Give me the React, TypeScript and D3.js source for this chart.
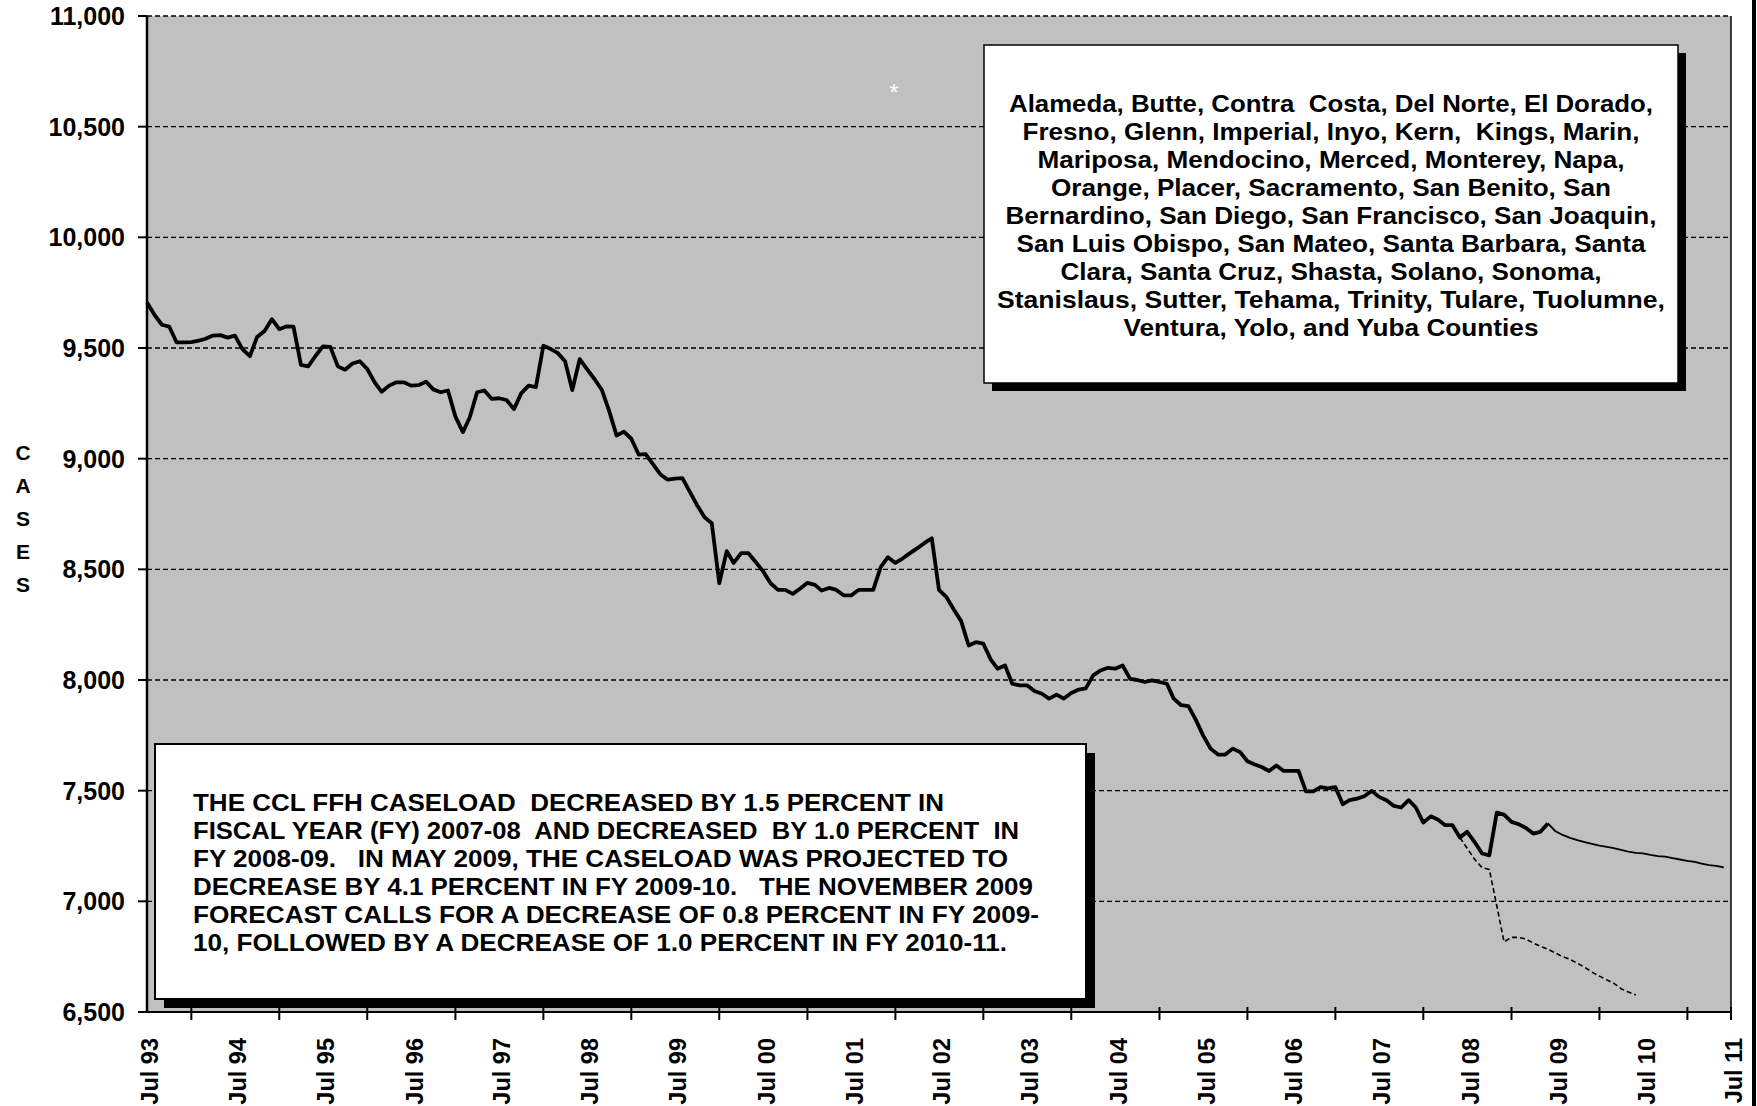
import { useMemo } from 'react'
import { line, range, scaleLinear, scaleTime } from 'd3'

// monthly CCL FFH caseload, Jul 93 onward
const actualCases = [
  9706, 9650, 9605, 9597, 9525, 9525, 9527, 9533, 9542, 9556, 9558, 9547,
  9556, 9495, 9463, 9550, 9577, 9630, 9585, 9598, 9597, 9424, 9417, 9465,
  9507, 9505, 9417, 9402, 9430, 9440, 9405, 9345, 9302, 9330, 9345, 9345,
  9330, 9332, 9348, 9313, 9300, 9308, 9190, 9120, 9185, 9300, 9308, 9270,
  9273, 9265, 9224, 9295, 9330, 9323, 9510, 9495, 9478, 9440, 9310, 9450,
  9405, 9360, 9310, 9216, 9104, 9122, 9090, 9018, 9021, 8975, 8930, 8905,
  8910, 8912, 8850, 8790, 8735, 8708, 8437, 8582, 8529, 8573, 8573, 8532,
  8491, 8437, 8407, 8407, 8389, 8412, 8439, 8430, 8404, 8416, 8407, 8382,
  8382, 8407, 8407, 8407, 8510, 8555, 8529, 8550, 8572, 8595, 8618, 8640,
  8407, 8374, 8317, 8266, 8156, 8171, 8164, 8092, 8051, 8066, 7983, 7976,
  7976, 7950, 7938, 7916, 7934, 7916, 7941, 7957, 7962, 8021, 8043, 8055,
  8051, 8066, 8005, 8000, 7991, 7998, 7991, 7983, 7916, 7886, 7882, 7820,
  7750, 7690, 7663, 7663, 7690, 7675, 7633, 7618, 7607, 7589, 7614, 7589,
  7589, 7589, 7497, 7497, 7516, 7510, 7516, 7439, 7457, 7464, 7475, 7499,
  7472, 7457, 7431, 7424, 7457, 7424, 7356, 7384, 7370, 7344, 7344, 7288,
  7314, 7268, 7216, 7208, 7401, 7392, 7359, 7348, 7332, 7306, 7314, 7352,
]

// November 2009 forecast, from Jun 09
const novForecastStart = 191
const novForecast = [
  7352, 7318, 7300, 7287, 7277, 7268, 7260, 7252, 7246, 7240, 7233, 7225,
  7219, 7217, 7210, 7204, 7202, 7195, 7189, 7183, 7178, 7170, 7164, 7160, 7153,
]

// May 2009 forecast, from Jun 08
const mayForecastStart = 179
const mayForecast = [
  7288, 7240, 7190, 7152, 7144, 6980, 6817, 6837, 6837, 6830, 6812, 6797,
  6783, 6768, 6750, 6738, 6720, 6702, 6680, 6662, 6645, 6630, 6605, 6590, 6577,
]

const yTicks = [6500, 7000, 7500, 8000, 8500, 9000, 9500, 10000, 10500, 11000]
const xLabels = [
  'Jul 93', 'Jul 94', 'Jul 95', 'Jul 96', 'Jul 97', 'Jul 98', 'Jul 99', 'Jul 00', 'Jul 01',
  'Jul 02', 'Jul 03', 'Jul 04', 'Jul 05', 'Jul 06', 'Jul 07', 'Jul 08', 'Jul 09', 'Jul 10', 'Jul 11',
]

const countyLines = [
  'Alameda, Butte, Contra  Costa, Del Norte, El Dorado,',
  'Fresno, Glenn, Imperial, Inyo, Kern,  Kings, Marin,',
  'Mariposa, Mendocino, Merced, Monterey, Napa,',
  'Orange, Placer, Sacramento, San Benito, San',
  'Bernardino, San Diego, San Francisco, San Joaquin,',
  'San Luis Obispo, San Mateo, Santa Barbara, Santa',
  'Clara, Santa Cruz, Shasta, Solano, Sonoma,',
  'Stanislaus, Sutter, Tehama, Trinity, Tulare, Tuolumne,',
  'Ventura, Yolo, and Yuba Counties',
]
// rendered width of each line in the source
const countyWidths = [644, 617, 587, 560, 651, 629, 541, 668, 415]

const noteLines = [
  'THE CCL FFH CASELOAD  DECREASED BY 1.5 PERCENT IN',
  'FISCAL YEAR (FY) 2007-08  AND DECREASED  BY 1.0 PERCENT  IN',
  'FY 2008-09.   IN MAY 2009, THE CASELOAD WAS PROJECTED TO',
  'DECREASE BY 4.1 PERCENT IN FY 2009-10.   THE NOVEMBER 2009',
  'FORECAST CALLS FOR A DECREASE OF 0.8 PERCENT IN FY 2009-',
  '10, FOLLOWED BY A DECREASE OF 1.0 PERCENT IN FY 2010-11.',
]
const noteWidths = [751, 826, 815, 840, 846, 814]

const W = 1757
const H = 1106
const plot = { left: 147, right: 1731, top: 16, bottom: 1012 }
const font = '"Liberation Sans", Arial, Helvetica, sans-serif'

const monthDate = (i: number) => new Date(1993, 6 + i, 1)

export default function App() {
  const x = useMemo(
    () => scaleTime().domain([new Date(1993, 6, 1), new Date(2011, 6, 1)]).range([plot.left, plot.right]),
    []
  )
  const y = useMemo(() => scaleLinear().domain([6500, 11000]).range([plot.bottom, plot.top]), [])

  const path = line<[Date, number]>()
    .x(d => x(d[0]))
    .y(d => y(d[1]))

  const actualPath = path(actualCases.map((v, i) => [monthDate(i), v]))
  const novPath = path(novForecast.map((v, i) => [monthDate(novForecastStart + i), v]))
  const mayPath = path(mayForecast.map((v, i) => [monthDate(mayForecastStart + i), v]))

  const janTicks = range(1994, 2012).map(yr => new Date(yr, 0, 1))

  const countyBox = { x: 984, y: 45, w: 694, h: 338 }
  const noteBox = { x: 155, y: 744, w: 931, h: 255 }

  return (
    <svg
      width={W}
      height={H}
      style={{ position: 'absolute', left: 0, top: 0, background: '#fff' }}
      fontFamily={font}
      fontWeight="bold"
    >
      <rect x={plot.left} y={plot.top} width={plot.right - plot.left} height={plot.bottom - plot.top} fill="#c0c0c0" />

      {yTicks.slice(1).map(t => (
        <line
          key={t}
          x1={plot.left}
          x2={plot.right}
          y1={y(t)}
          y2={y(t)}
          stroke="#000"
          strokeWidth={1.4}
          strokeDasharray="5,3"
        />
      ))}

      <path d={mayPath ?? ''} fill="none" stroke="#000" strokeWidth={1.6} strokeDasharray="5,3" />
      <path d={novPath ?? ''} fill="none" stroke="#000" strokeWidth={1.8} />
      <path d={actualPath ?? ''} fill="none" stroke="#000" strokeWidth={3.8} strokeLinejoin="round" />

      {/* axes */}
      <line x1={plot.left} x2={plot.left} y1={plot.top} y2={plot.bottom} stroke="#000" strokeWidth={2.5} />
      <line x1={plot.right} x2={plot.right} y1={plot.top} y2={plot.bottom + 4} stroke="#000" strokeWidth={1.5} />
      <line x1={plot.left} x2={plot.right} y1={plot.bottom} y2={plot.bottom} stroke="#000" strokeWidth={2} />

      {yTicks.map(t => (
        <g key={t}>
          <line x1={plot.left - 9} x2={plot.left} y1={y(t)} y2={y(t)} stroke="#000" strokeWidth={2} />
          <text x={125} y={y(t)} dy="0.36em" textAnchor="end" fontSize={25}>
            {t.toLocaleString('en-US')}
          </text>
        </g>
      ))}

      {janTicks.map(d => (
        <line key={d.getTime()} x1={x(d)} x2={x(d)} y1={plot.bottom - 5} y2={plot.bottom + 8} stroke="#000" strokeWidth={2} />
      ))}
      <line x1={plot.right} x2={plot.right} y1={plot.bottom - 5} y2={plot.bottom + 8} stroke="#000" strokeWidth={2} />

      {xLabels.map((label, i) => {
        const cx = x(new Date(1993 + i, 6, 1)) + 3
        return (
          <text
            key={label}
            transform={`translate(${cx}, 1038) rotate(-90)`}
            dy="0.36em"
            textAnchor="end"
            fontSize={23.5}
          >
            {label}
          </text>
        )
      })}

      {'CASES'.split('').map((c, i) => (
        <text key={i} x={23} y={452 + i * 33} dy="0.36em" textAnchor="middle" fontSize={21}>
          {c}
        </text>
      ))}

      <text x={894} y={90} dy="0.45em" textAnchor="middle" fontSize={24} fill="#fff" fontWeight="normal">
        *
      </text>

      {/* counties box */}
      <rect x={countyBox.x + 8} y={countyBox.y + 8} width={countyBox.w} height={countyBox.h} fill="#000" />
      <rect x={countyBox.x} y={countyBox.y} width={countyBox.w} height={countyBox.h} fill="#fff" stroke="#000" strokeWidth={1.5} />
      {countyLines.map((l, i) => (
        <text
          key={i}
          x={countyBox.x + countyBox.w / 2}
          y={103 + i * 28}
          dy="0.36em"
          textAnchor="middle"
          fontSize={24}
          textLength={countyWidths[i]}
          lengthAdjust="spacingAndGlyphs"
          style={{ whiteSpace: 'pre' }}
        >
          {l}
        </text>
      ))}

      {/* note box */}
      <rect x={noteBox.x + 9} y={noteBox.y + 9} width={noteBox.w} height={noteBox.h} fill="#000" />
      <rect x={noteBox.x} y={noteBox.y} width={noteBox.w} height={noteBox.h} fill="#fff" stroke="#000" strokeWidth={2} />
      {noteLines.map((l, i) => (
        <text
          key={i}
          x={193}
          y={802 + i * 28}
          dy="0.36em"
          fontSize={24}
          textLength={noteWidths[i]}
          lengthAdjust="spacingAndGlyphs"
          style={{ whiteSpace: 'pre' }}
        >
          {l}
        </text>
      ))}

      <rect x={1752} y={0} width={4} height={H} fill="#000" />
    </svg>
  )
}
